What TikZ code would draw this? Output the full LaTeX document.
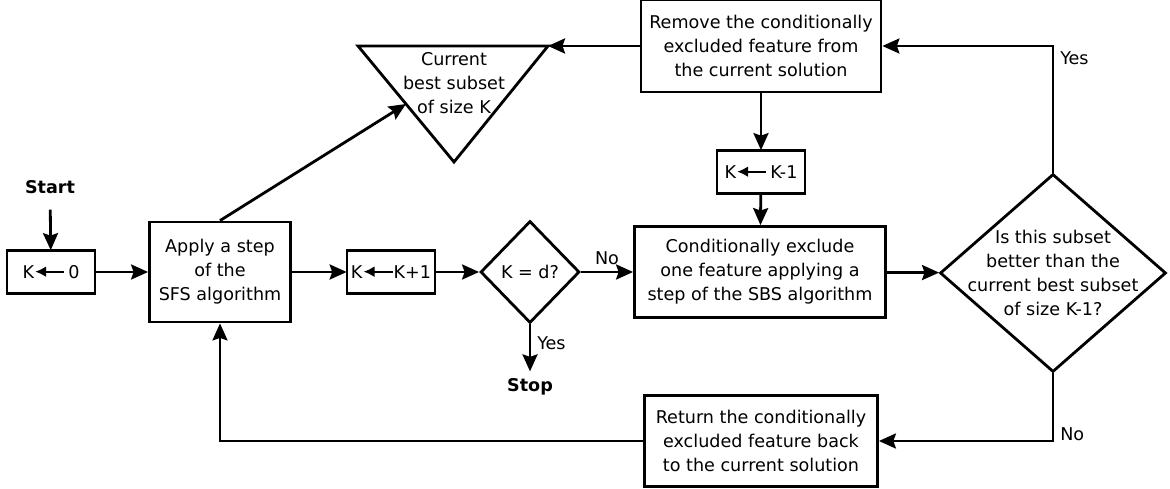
\documentclass[tikz,border=0pt]{standalone}
\usepackage{fontspec}
\setmainfont{DejaVu Sans}
\usetikzlibrary{arrows.meta, calc, positioning, shapes.geometric}
\newcommand{\getsarrow}{\tikz[baseline=-0.7ex, x=1cm, y=1cm]
  \draw[line width=1.3pt, -{Latex[length=2.2mm, width=2.2mm]}] (0.58,0) -- (0,0);}

\begin{document}
\begin{tikzpicture}[
            x = 0.02cm, y = -0.02cm,
         font = \fontsize{10}{13.7}\selectfont,
   line width = 1.6pt,
            > = {Stealth[length=3.4mm, width=3mm, inset=0.5mm]},
    box/.style = {rectangle, draw, align=center, inner sep=2pt},
   kbox/.style = {box, minimum width=17.6mm, minimum height=8.6mm},
   test/.style = {diamond, draw, align=center},
   term/.style = {font=\fontsize{10}{12}\selectfont\bfseries}
                    ]
\useasboundingbox (0,0) rectangle (1170,489);
% left part
\node (start) [term] at (50,187) {Start};
\node (k0)    [kbox] at (51,272) {K\getsarrow\,0};
\node (sfs)   [box, minimum width=28.2mm, minimum height=20mm] at (220,272)
              {Apply a step\\of the\\SFS algorithm};
\node (kinc)  [kbox, inner sep=1pt] at (391,272) {K\getsarrow K+1};
\node (kd)    [test, inner sep=0pt, minimum width=19.8mm, minimum height=20.4mm] at (530,272) {K = d?};
\node (stop)  [term] at (530,387) {Stop};
% current best subset
\coordinate (tl) at (358,46);
\coordinate (tr) at (548,46);
\coordinate (tb) at (454,162);
\coordinate (tin) at ($(tl)!0.5!(tb)$);
\node (best) [align=center] at (454,83) {Current\\best subset\\of size K};
\draw (tl) -- (tr) -- (tb) -- cycle;
% right part
\node (remove) [box, minimum width=48mm, minimum height=18.4mm] at (761,46)
               {Remove the conditionally\\excluded feature from\\the current solution};
\node (kdec)   [kbox] at (761,172) {K\getsarrow\,K-1};
\node (cond)   [box, minimum width=50.2mm, minimum height=18.2mm] at (760,272)
               {Conditionally exclude\\one feature applying a\\step of the SBS algorithm};
\node (better) [test, inner sep=-0.35cm, minimum width=45.2mm, minimum height=39.6mm] at (1053,273)
               {Is this subset\\better than the\\current best subset\\of size K-1?};
\node (ret)    [box, minimum width=46.6mm, minimum height=18.2mm] at (761,441)
               {Return the conditionally\\excluded feature back\\to the current solution};
% connectors
\draw[->, shorten <=5pt] (start) -- (k0);
\draw[->] (k0) -- (sfs);
\draw[->] (sfs) -- (kinc);
\draw[->] (kinc) -- (kd);
\draw[->] (kd) -- node[above] {No} (cond);
\draw[->] (kd) -- node[pos=0.4, right] {Yes} (stop);
\draw[->] (sfs.north) -- (tin);
\draw[->] (remove) -- (tr);
\draw[->] (remove) -- (kdec);
\draw[->] (kdec) -- (cond);
\draw[->] (cond) -- (better);
\draw[->] (better.north) |- node[pos=0.45, right] {Yes} (remove);
\draw[->] (better.south) |- node[pos=0.45, right] {No} (ret);
\draw[->] (ret) -| (sfs);
\end{tikzpicture}
\end{document}
